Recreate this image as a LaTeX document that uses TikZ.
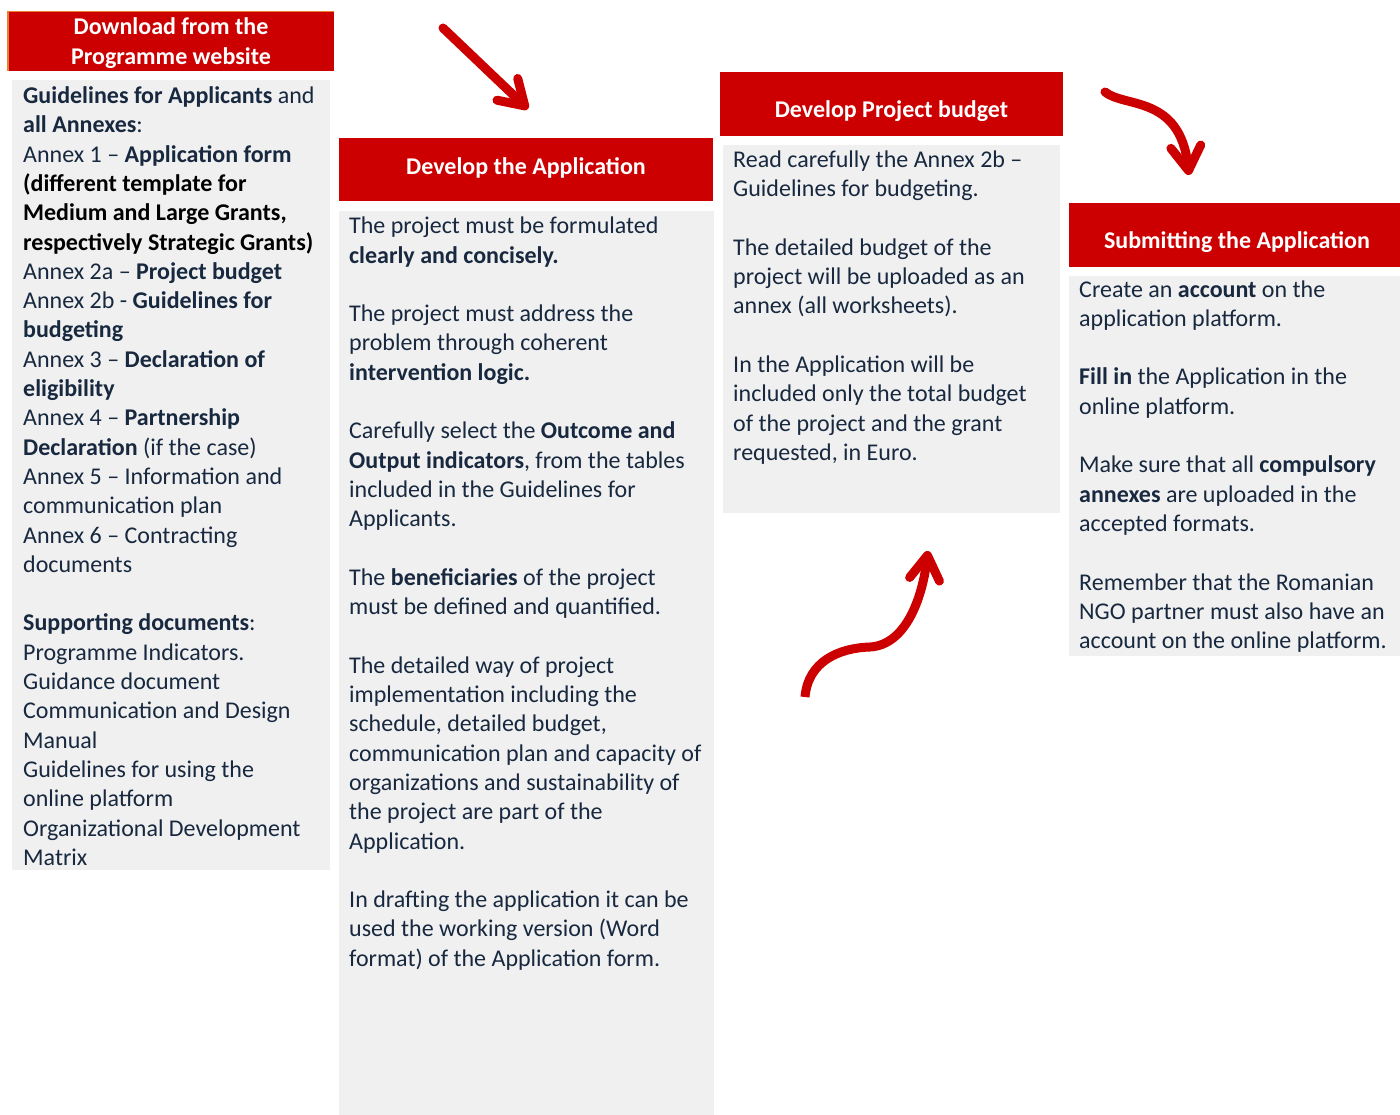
\documentclass[tikz,border=0pt]{standalone}
\usepackage{fontspec}
\setmainfont{Carlito}
\usetikzlibrary{arrows.meta}
\definecolor{progred}{HTML}{CC0000}
\definecolor{panelgray}{HTML}{F0F0F0}
\definecolor{inkblue}{HTML}{17283F}
\definecolor{edgeorange}{HTML}{ED7D31}
\newcommand{\panelfont}{\fontsize{24}{29.3}\selectfont}
\newcommand{\hl}[1]{\textbf{#1}}
\newcommand{\blk}[1]{{\color{black}\bfseries #1}}

\tikzset{
  headbox/.style={rectangle, fill=progred, text=white, font=\panelfont\bfseries, inner sep=0pt},
  panel/.style={rectangle, fill=panelgray, inner sep=0pt, anchor=north west},
  panetext/.style={anchor=base west, align=left, inner sep=0pt, text=inkblue},
  bigarrow/.style={draw=progred, line width=9pt, line cap=round,
    -{Straight Barb[length=24pt, width=30pt, round]}},
}

\begin{document}
\begin{tikzpicture}[x=1pt, y=-1pt, font=\panelfont]
    \useasboundingbox (0,0) rectangle (1400,1115);

    % grey panels
    \node[panel, minimum width=318pt, minimum height=790pt] (pan_download) at (12,80) {} ;
    \node[panel, minimum width=375pt, minimum height=905pt] (pan_develop) at (339,211) {} ;
    \node[panel, minimum width=337pt, minimum height=368pt] (pan_budget) at (723,145) {} ;
    \node[panel, minimum width=336pt, minimum height=380pt] (pan_submit) at (1069,276) {} ;

    % red headers
    \node[headbox, align=center, minimum width=326pt, minimum height=59pt, text depth=0.3pt] (head_download) at (171,41.2) {Download from the\\Programme website} ;
    \draw[edgeorange, line width=1.5pt] (head_download.south west) |- (head_download.north east) ;
    \node[headbox, minimum width=374pt, minimum height=63pt, text height=19pt, text depth=9.6pt] (head_develop) at (526,170) {Develop the Application} ;
    \node[headbox, minimum width=343pt, minimum height=64pt, text height=33pt, text depth=5pt] (head_budget) at (891.5,104) {Develop Project budget} ;
    \node[headbox, minimum width=336pt, minimum height=63.4pt, text height=32.4pt, text depth=5pt] (head_submit) at (1237,235) {Submitting the Application} ;

    % panel texts (placed at the baseline of their last line)
    \node[panetext] (txt_download) at (23,865.3) {%
      \hl{Guidelines for Applicants} and\\
      \hl{all Annexes}:\\
      Annex 1 – \hl{Application form}\\
      \blk{(different template for}\\
      \blk{Medium and Large Grants,}\\
      \blk{respectively Strategic Grants)}\\
      Annex 2a – \hl{Project budget}\\
      Annex 2b - \hl{Guidelines for}\\
      \hl{budgeting}\\
      Annex 3 – \hl{Declaration of}\\
      \hl{eligibility}\\
      Annex 4 – \hl{Partnership}\\
      \hl{Declaration} (if the case)\\
      Annex 5 – Information and\\
      communication plan\\
      Annex 6 – Contracting\\
      documents\\
      \\
      \hl{Supporting documents}:\\
      Programme Indicators.\\
      Guidance document\\
      Communication and Design\\
      Manual\\
      Guidelines for using the\\
      online platform\\
      Organizational Development\\
      Matrix} ;

    \node[panetext] (txt_develop) at (349,966.2) {%
      The project must be formulated\\
      \hl{clearly and concisely.}\\
      \\
      The project must address the\\
      problem through coherent\\
      \hl{intervention logic.}\\
      \\
      Carefully select the \hl{Outcome and}\\
      \hl{Output indicators}, from the tables\\
      included in the Guidelines for\\
      Applicants.\\
      \\
      The \hl{beneficiaries} of the project\\
      must be defined and quantified.\\
      \\
      The detailed way of project\\
      implementation including the\\
      schedule, detailed budget,\\
      communication plan and capacity of\\
      organizations and sustainability of\\
      the project are part of the\\
      Application.\\
      \\
      In drafting the application it can be\\
      used the working version (Word\\
      format) of the Application form.} ;

    \node[panetext] (txt_budget) at (733,460.3) {%
      Read carefully the Annex 2b –\\
      Guidelines for budgeting.\\
      \\
      The detailed budget of the\\
      project will be uploaded as an\\
      annex (all worksheets).\\
      \\
      In the Application will be\\
      included only the total budget\\
      of the project and the grant\\
      requested, in Euro.} ;

    \node[panetext] (txt_submit) at (1079,648.6) {%
      Create an \hl{account} on the\\
      application platform.\\
      \\
      \hl{Fill in} the Application in the\\
      online platform.\\
      \\
      Make sure that all \hl{compulsory}\\
      \hl{annexes} are uploaded in the\\
      accepted formats.\\
      \\
      Remember that the Romanian\\
      NGO partner must also have an\\
      account on the online platform.} ;

    % red arrows
    \coordinate (arr_down_start) at (443,28) ;
    \coordinate (arr_down_tip) at (528,109) ;
    \coordinate (arr_curl_start) at (1105,92) ;
    \coordinate (arr_curl_tip) at (1189,175) ;
    \coordinate (arr_up_start) at (805,697) ;
    \coordinate (arr_up_mid) at (870,647) ;
    \coordinate (arr_up_tip) at (928,551) ;

    \draw[bigarrow] (arr_down_start) -- (arr_down_tip) ;
    \draw[bigarrow] (arr_curl_start) .. controls (1125,108) and (1180,95) .. (arr_curl_tip) ;
    \draw[bigarrow, line cap=butt] (arr_up_start) .. controls (808,662) and (838,648) .. (arr_up_mid)
        .. controls (905,645) and (922,600) .. (arr_up_tip) ;
\end{tikzpicture}
\end{document}
